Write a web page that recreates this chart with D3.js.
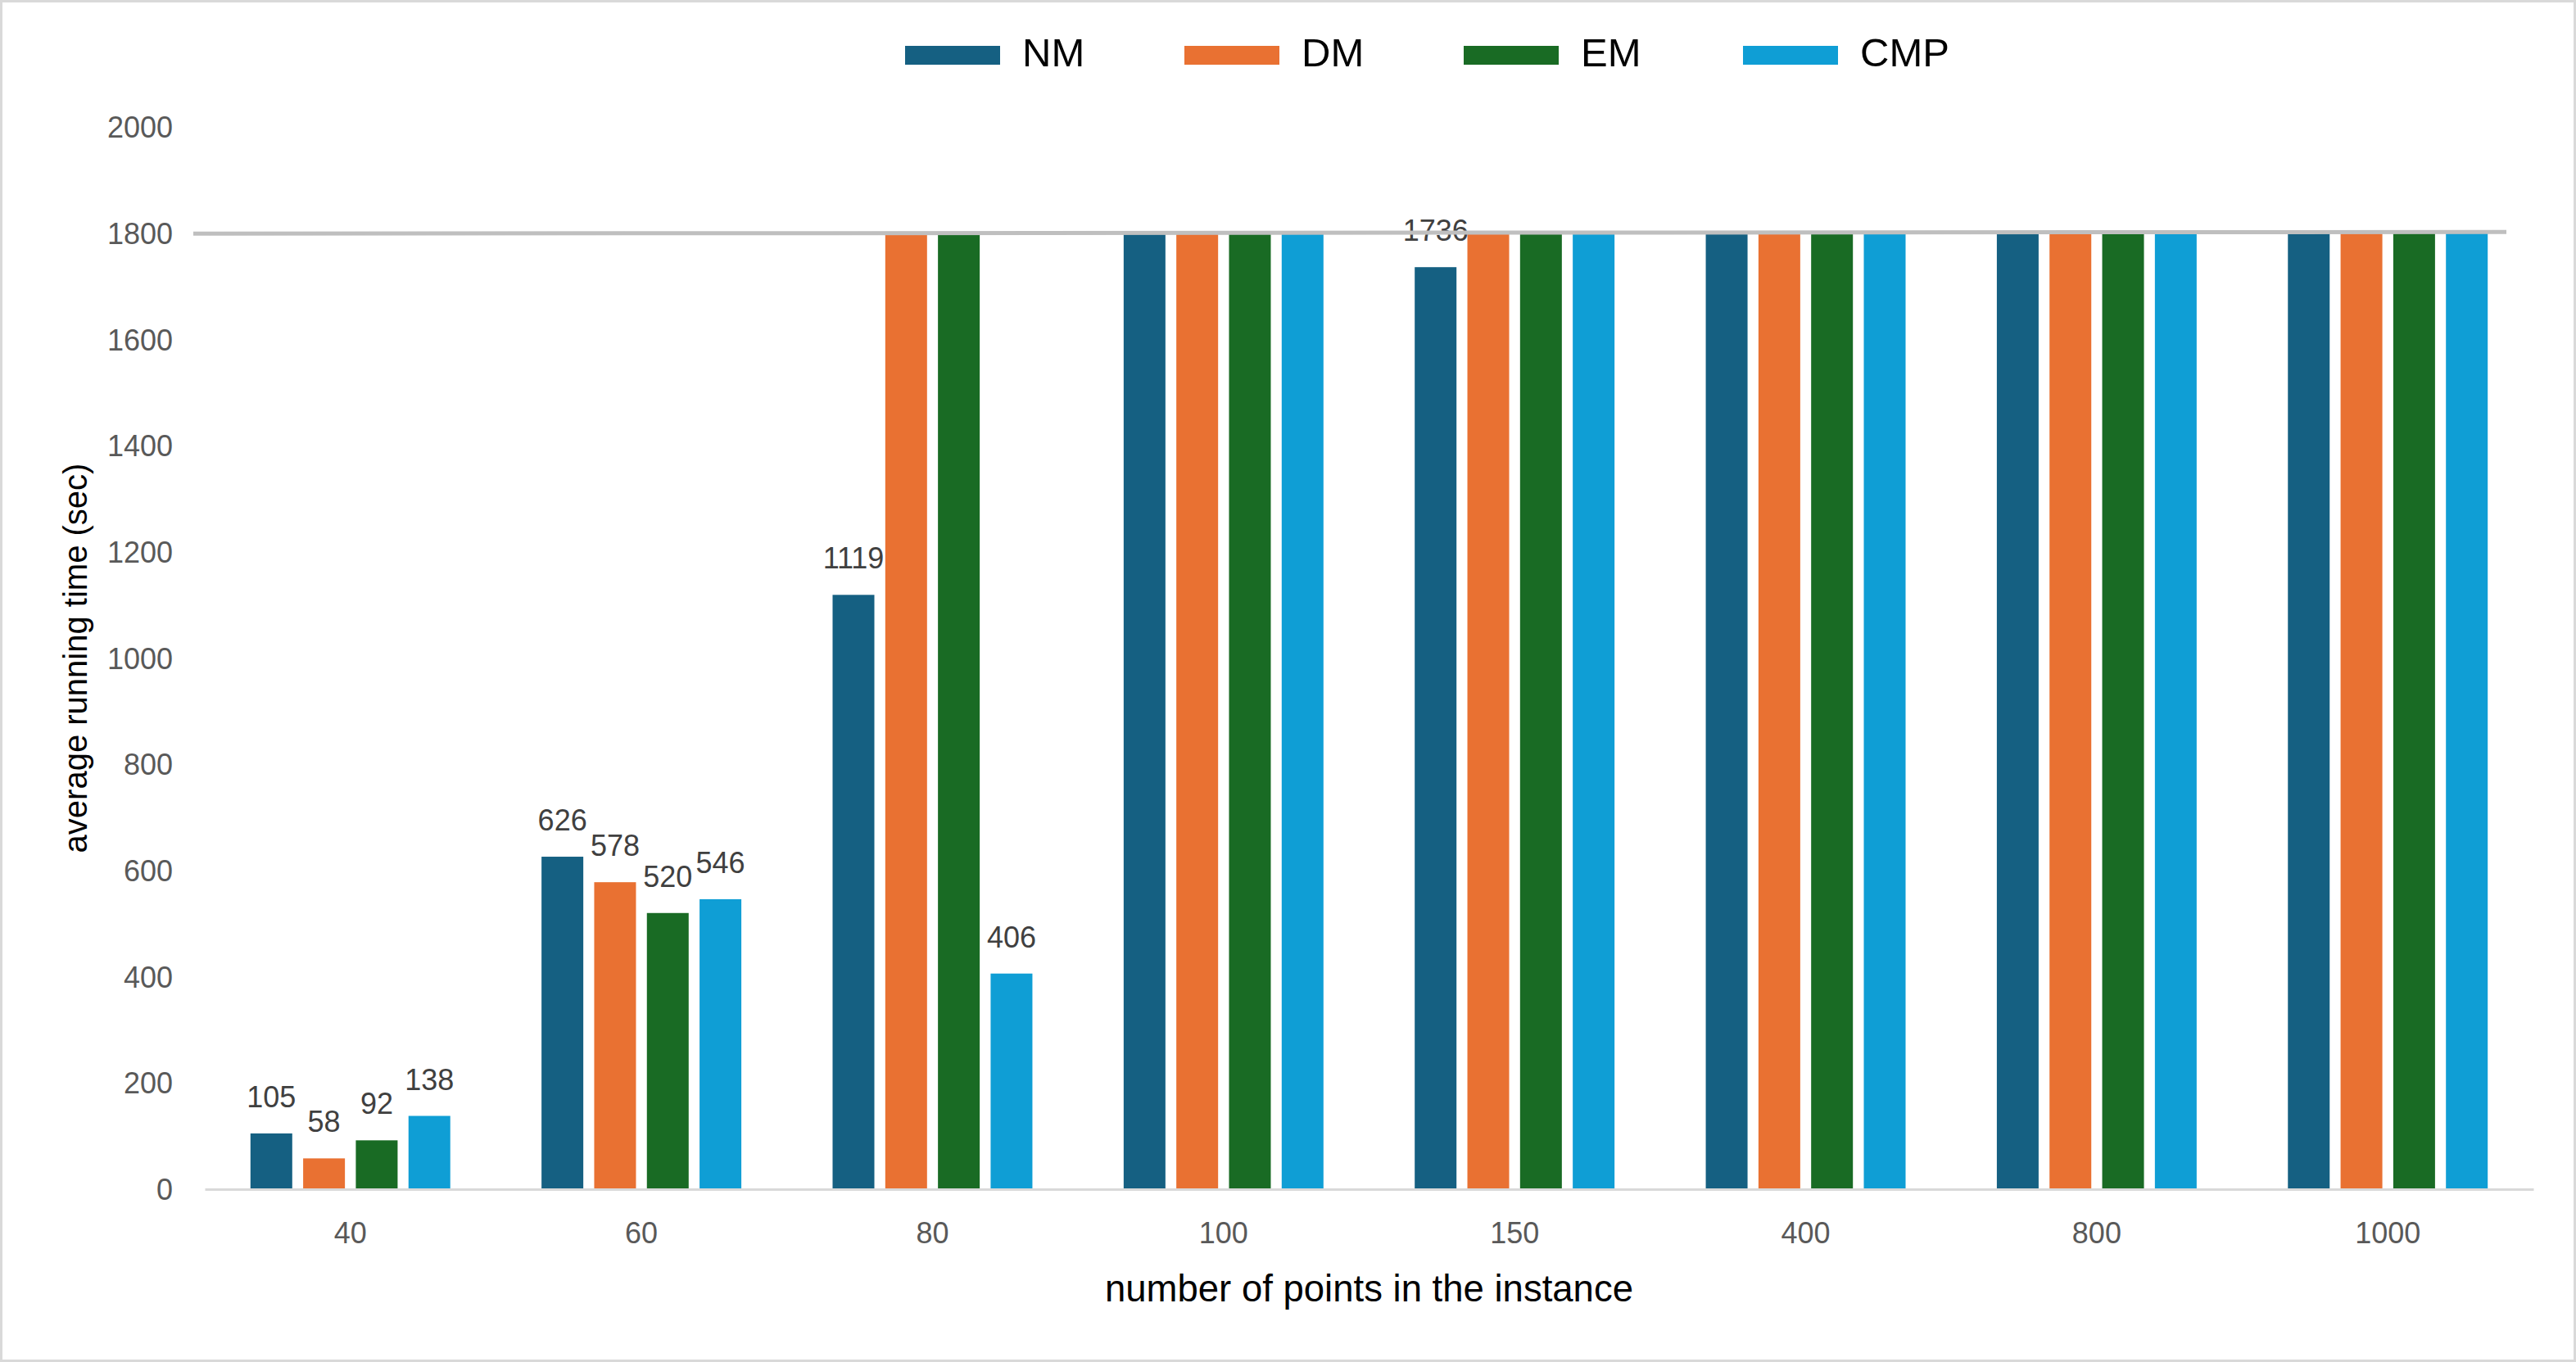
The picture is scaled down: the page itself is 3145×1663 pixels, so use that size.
<!DOCTYPE html>
<html>
<head>
<meta charset="utf-8">
<script src="https://cdn.jsdelivr.net/npm/d3@7"></script>
<style>
  body { margin: 0; background: #fff; }
  text { font-family: "Liberation Sans", Arial, sans-serif; }
</style>
</head>
<body>
<svg id="chart" width="3145" height="1663"></svg>
<script>
// values, 1800 = time limit
const categories = ['40', '60', '80', '100', '150', '400', '800', '1000'];
const seriesNames = ['NM', 'DM', 'EM', 'CMP'];
const NM  = [105, 626, 1119, 1800, 1736, 1800, 1800, 1800];
const DM  = [58, 578, 1800, 1800, 1800, 1800, 1800, 1800];
const EM  = [92, 520, 1800, 1800, 1800, 1800, 1800, 1800];
const CMP = [138, 546, 406, 1800, 1800, 1800, 1800, 1800];
const yTicks = [0, 200, 400, 600, 800, 1000, 1200, 1400, 1600, 1800, 2000];
const timeLimit = 1800;

const colors = ['#156082', '#E97132', '#196B24', '#0F9ED5'];

let width = 3145, height = 1663;
let plot = {left: 250, right: 3093, top: 155, bottom: 1452};

const svg = d3.select('#chart');

// outer border
svg.append('rect')
    .attr('x', 1.5).attr('y', 1.5)
    .attr('width', width - 3).attr('height', height - 3)
    .attr('fill', '#fff')
    .attr('stroke', '#d9d9d9')
    .attr('stroke-width', 3);

let x0 = d3.scaleBand().domain(categories)
    .range([plot.left, plot.right])
    .paddingInner(0.3135).paddingOuter(0.157);
let x1 = d3.scaleBand().domain(seriesNames)
    .range([0, x0.bandwidth()])
    .paddingInner(0.207);
let y = d3.scaleLinear().domain([0, 2000]).range([plot.bottom, plot.top]);

let color = d3.scaleOrdinal().domain(seriesNames).range(colors);

// y axis labels (no line)
let yAxis = d3.axisLeft(y).tickValues(yTicks).tickFormat(d3.format('d')).tickSize(0).tickPadding(0);
let yG = svg.append('g')
    .attr('transform', 'translate(211, 0)')
    .call(yAxis);
yG.select('.domain').remove();
yG.selectAll('text')
    .attr('fill', '#595959')
    .style('font-size', '36px')
    .attr('dy', '0.35em');

// rows for bars
let table = categories.map((c, i) => ({
    cat: c,
    vals: [NM[i], DM[i], EM[i], CMP[i]].map((v, j) => ({name: seriesNames[j], value: v}))
}));

let groups = svg.append('g').selectAll('g')
    .data(table)
    .enter()
        .append('g')
        .attr('transform', d => `translate(${x0(d.cat)}, 0)`);

groups.selectAll('rect')
    .data(d => d.vals)
    .enter()
        .append('rect')
        .attr('x', d => x1(d.name))
        .attr('y', d => y(d.value))
        .attr('width', x1.bandwidth())
        .attr('height', d => y(0) - y(d.value))
        .attr('fill', d => color(d.name));

// data labels, only below the limit
groups.selectAll('text')
    .data(d => d.vals.filter(v => v.value < timeLimit))
    .enter()
        .append('text')
        .attr('x', d => x1(d.name) + x1.bandwidth() / 2)
        .attr('y', d => y(d.value) - 32)
        .attr('text-anchor', 'middle')
        .text(d => d.value)
        .style('fill', '#404040').style('font-size', '36px');

// x axis
let xAxis = d3.axisBottom(x0).tickSize(0).tickPadding(0);
let xG = svg.append('g')
    .attr('transform', `translate(0, ${plot.bottom})`)
    .call(xAxis);
xG.select('.domain')
    .attr('stroke', '#d9d9d9')
    .attr('stroke-width', 3);
xG.selectAll('text')
    .attr('fill', '#595959')
    .style('font-size', '36px')
    .attr('dy', 0)
    .attr('y', 66);

// the limit line drawn over the chart
svg.append('line')
    .attr('x1', plot.left - 14)
    .attr('x2', plot.right - 33)
    .attr('y1', y(timeLimit) + 0.5)
    .attr('y2', y(timeLimit) - 1.5)
    .attr('stroke', '#bfbfbf')
    .attr('stroke-width', 5);

// axis titles
svg.append('text')
    .attr('x', (plot.left + plot.right) / 2)
    .attr('y', 1589)
    .attr('text-anchor', 'middle')
    .text('number of points in the instance')
    .style('fill', '#000').style('font-size', '45.5px');

svg.append('text')
    .attr('transform', `translate(106, ${(plot.top + plot.bottom) / 2}) rotate(-90)`)
    .attr('text-anchor', 'middle')
    .text('average running time (sec)')
    .style('fill', '#000').style('font-size', '40px');

// legend
let legend = svg.append('g').attr('transform', 'translate(1105, 56)');
let legends = legend.selectAll('g')
    .data(seriesNames)
    .enter()
        .append('g')
        .attr('transform', (d, i) => `translate(${i * 341}, 0)`);

legends.append('rect')
    .attr('width', 116)
    .attr('height', 23)
    .attr('fill', d => color(d));

legends.append('text')
    .attr('x', 143)
    .attr('y', 25)
    .text(d => d)
    .style('fill', '#000').style('font-size', '49px');
</script>
</body>
</html>
